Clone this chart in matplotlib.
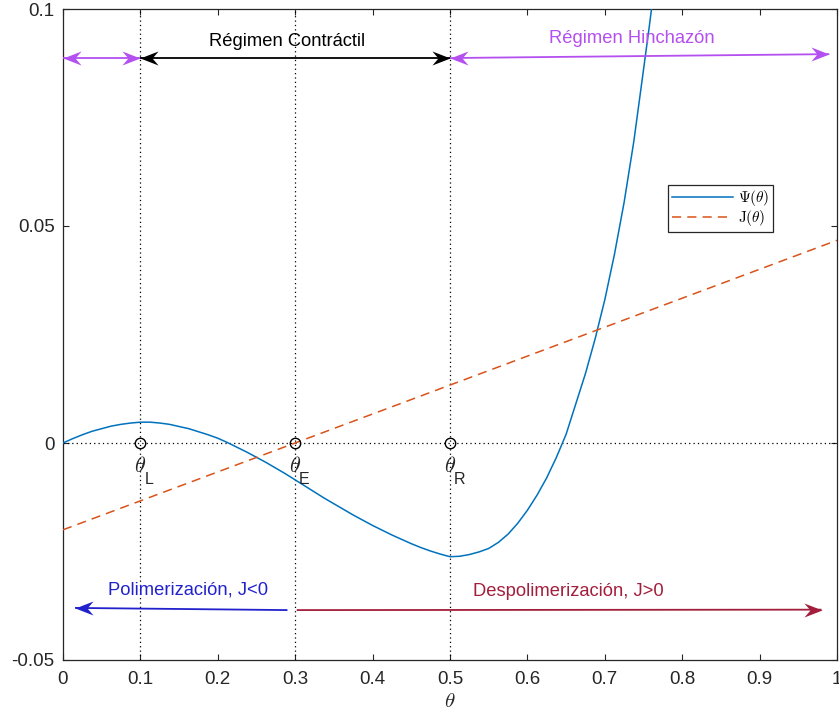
import matplotlib
matplotlib.use("Agg")
import matplotlib.pyplot as plt
import numpy as np
from matplotlib.path import Path

plt.rcParams['font.family'] = ['Liberation Sans', 'DejaVu Sans']
plt.rcParams['mathtext.fontset'] = 'cm'

# ── data ─────────────────────────────────────────────────────────────────────

theta = [0.0000, 0.0125, 0.0250, 0.0375, 0.0500, 0.0625, 0.0750, 0.0875, 0.1000, 0.1125,
         0.1250, 0.1375, 0.1500, 0.1625, 0.1750, 0.1875, 0.2000, 0.2125, 0.2250, 0.2375,
         0.2500, 0.2625, 0.2750, 0.2875, 0.3000, 0.3125, 0.3250, 0.3375, 0.3500, 0.3625,
         0.3750, 0.3875, 0.4000, 0.4125, 0.4250, 0.4375, 0.4500, 0.4625, 0.4750, 0.4875,
         0.5000, 0.5125, 0.5250, 0.5375, 0.5500, 0.5625, 0.5750, 0.5875, 0.6000, 0.6125,
         0.6250, 0.6375, 0.6500, 0.6625, 0.6750, 0.6875, 0.7000, 0.7125, 0.7250, 0.7375,
         0.7500, 0.7575, 0.7650]
psi = [0.0000, 0.0010, 0.0019, 0.0027, 0.0033, 0.0039, 0.0043, 0.0046, 0.0048, 0.0048,
       0.0046, 0.0043, 0.0038, 0.0033, 0.0026, 0.0019, 0.0011, 0.0001, -0.0010, -0.0021,
       -0.0033, -0.0045, -0.0058, -0.0071, -0.0085, -0.0099, -0.0113, -0.0127, -0.0140, -0.0153,
       -0.0166, -0.0178, -0.0190, -0.0201, -0.0212, -0.0222, -0.0232, -0.0241, -0.0249, -0.0256,
       -0.0262, -0.0261, -0.0257, -0.0251, -0.0243, -0.0229, -0.0210, -0.0185, -0.0155, -0.0120,
       -0.0080, -0.0033, 0.0020, 0.0090, 0.0160, 0.0240, 0.0330, 0.0435, 0.0555, 0.0695,
       0.0860, 0.0960, 0.1065]

j_theta = [0.0, 1.0]
j_vals = [-0.0200, 0.0467]

# equilibrium points (theta_L, theta_E, theta_R)
crit_theta = [0.1, 0.3, 0.5]
crit_names = ["L", "E", "R"]

# regime arrows: (x0, y0, x1, y1)
reg_left = (0.0, 0.0887, 0.1, 0.0887)
reg_contr = (0.1, 0.0887, 0.5, 0.0887)
reg_swell = (0.5, 0.0887, 0.99, 0.0896)
poly_arrow = (0.29, -0.0385, 0.0155, -0.0380)
depoly_arrow = (0.302, -0.0385, 0.980, -0.0384)

MAGENTA = "#b44ff0"
BLUE = "#2222cc"
DARKRED = "#a31e3c"
C_PSI = "#0072bd"
C_J = "#d95319"

# swept-back arrow head, tip at origin pointing along +x
HEAD = Path([(0, 0), (-18, 7), (-12, 0), (-18, -7), (0, 0)],
            [Path.MOVETO, Path.LINETO, Path.LINETO, Path.LINETO, Path.CLOSEPOLY])
HEAD_LEFT = Path(np.array([(0, 0), (18, 7), (12, 0), (18, -7), (0, 0)]),
                 HEAD.codes)


def draw_arrow(ax, seg, color, both=False):
    x0, y0, x1, y1 = seg
    ax.plot([x0, x1], [y0, y1], color=color, lw=1.3, solid_capstyle='butt', zorder=4)
    right = HEAD if x1 > x0 else HEAD_LEFT
    left = HEAD_LEFT if x1 > x0 else HEAD
    ax.plot([x1], [y1], marker=right, ms=26, color=color, mec=color, mew=0, zorder=5)
    if both:
        ax.plot([x0], [y0], marker=left, ms=26, color=color, mec=color, mew=0, zorder=5)


fig = plt.figure(figsize=(8.39, 7.15), dpi=100)
ax = fig.add_axes([63 / 839, 55 / 715, 774 / 839, 651 / 715])

ax.plot(theta, psi, color=C_PSI, lw=1.1, label=r"$\Psi(\theta)$", zorder=3)
ax.plot(j_theta, j_vals, color=C_J, lw=1.1, ls=(0, (6, 4)), label=r"$\mathrm{J}(\theta)$", zorder=3)

# dotted guides
ax.axhline(0, color="black", lw=0.9, ls=(0, (1, 2.5)), zorder=2)
for xc in crit_theta:
    ax.axvline(xc, color="black", lw=0.9, ls=(0, (1, 2.5)), zorder=2)
ax.plot(crit_theta, [0] * len(crit_theta), ls="none", marker="o", ms=7.5,
        mfc="none", mec="black", mew=1.0, zorder=4)

for xc, nm in zip(crit_theta, crit_names):
    ax.annotate(r"$\theta$", xy=(xc, 0), xytext=(0, -17), textcoords="offset points",
                ha="center", va="center", fontsize=16, color="#262626")
    ax.annotate(nm, xy=(xc, 0), xytext=(6.5, -26), textcoords="offset points",
                ha="center", va="center", fontsize=11.5, color="#262626")

# regimes
draw_arrow(ax, reg_left, MAGENTA, both=True)
draw_arrow(ax, reg_contr, "black", both=True)
draw_arrow(ax, reg_swell, MAGENTA, both=True)
ax.text(0.289, 0.0924, "Régimen Contráctil", ha="center", va="center", fontsize=13.2, color="black")
ax.text(0.735, 0.0931, "Régimen Hinchazón", ha="center", va="center", fontsize=13.2, color=MAGENTA)

draw_arrow(ax, poly_arrow, BLUE)
draw_arrow(ax, depoly_arrow, DARKRED)
ax.text(0.161, -0.0339, "Polimerización, J<0", ha="center", va="center", fontsize=13.2, color=BLUE)
ax.text(0.653, -0.0343, "Despolimerización, J>0", ha="center", va="center", fontsize=13.2, color=DARKRED)

ax.set_xlim(0, 1)
ax.set_ylim(-0.05, 0.1)
ax.set_xticks(np.arange(0, 1.01, 0.1))
ax.set_xticklabels(["0", "0.1", "0.2", "0.3", "0.4", "0.5", "0.6", "0.7", "0.8", "0.9", "1"])
ax.set_yticks([-0.05, 0, 0.05, 0.1])
ax.set_yticklabels(["-0.05", "0", "0.05", "0.1"])
ax.tick_params(direction="in", length=4.5, width=0.8, top=True, right=True,
               labelsize=13.5, colors="#262626", pad=6)
ax.tick_params(axis="x", pad=8)
for sp in ax.spines.values():
    sp.set_color("#262626")
    sp.set_linewidth(0.9)
ax.set_xlabel(r"$\theta$", fontsize=15, color="#262626", labelpad=3)

leg = ax.legend(loc="upper left", bbox_to_anchor=(0.772, 0.742), fontsize=11,
                handlelength=4.0, handletextpad=0.3, borderpad=0.25, labelspacing=0.0,
                fancybox=False, framealpha=1, edgecolor="#262626")
leg.get_frame().set_linewidth(0.9)

fig.savefig("out.png", dpi=100)
